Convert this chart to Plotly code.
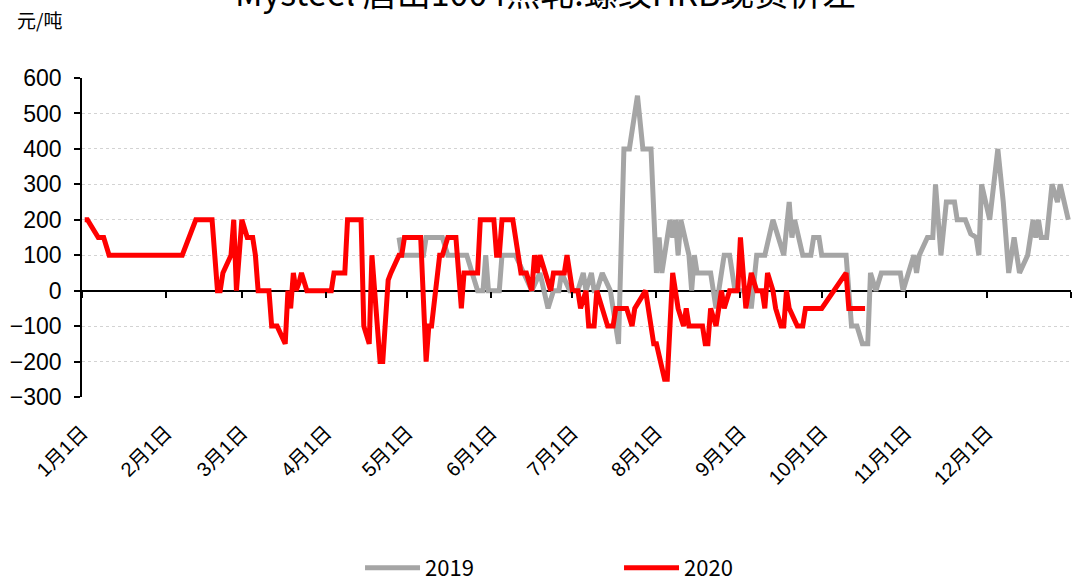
import pandas as pd
import plotly.graph_objects as go

# ---- data (day offset from 1 Jan, value in 元/吨) ----
days_2019 = [117, 118, 126, 127, 133, 135, 142, 144, 146, 148, 149, 150, 154, 155, 160, 163, 166, 169, 172, 174,
             176, 177, 180, 183, 185, 186, 188, 189, 190, 192, 195, 196, 198, 200, 202, 205, 207, 210, 212, 213,
             214, 217, 218, 219, 220, 221, 224, 225, 226, 227, 232, 234, 237, 239, 241, 246, 247, 249, 252, 255,
             259, 261, 262, 263, 266, 269, 270, 272, 273, 282, 284, 286, 288, 290, 291, 293, 295, 302, 303, 305,
             307, 308, 309, 312, 314, 315, 317, 319, 322, 323, 326, 328, 330, 331, 332, 335, 338, 340, 342, 344,
             346, 349, 351, 352, 353, 354, 356, 358, 360, 361, 364]
vals_2019 = [150, 100, 100, 150, 150, 100, 100, 50, 0, 0, 100, 0, 0, 100, 100, 50, 0, 50, -50, 0,
             0, 50, 0, 0, 50, 0, 50, 0, 0, 50, 0, -50, -150, 400, 400, 550, 400, 400, 50, 150,
             50, 200, 150, 200, 100, 200, 100, 0, 100, 50, 50, -50, 100, 100, 0, 0, -50, 100, 100, 200,
             100, 250, 150, 200, 100, 100, 150, 150, 100, 100, -100, -100, -150, -150, 50, 0, 50, 50, 0, 50,
             100, 50, 100, 150, 150, 300, 100, 250, 250, 200, 200, 160, 150, 100, 300, 200, 400, 250, 50, 150,
             50, 100, 200, 150, 200, 150, 150, 300, 250, 300, 200]

days_2020 = [1, 2, 6, 8, 10, 37, 42, 48, 50, 51, 52, 55, 56, 57, 59, 61, 63, 64, 65, 69,
             70, 72, 75, 76, 77, 78, 79, 80, 81, 83, 92, 93, 97, 98, 103, 104, 106, 107, 110, 111,
             113, 114, 117, 118, 119, 125, 127, 128, 129, 132, 133, 135, 138, 140, 141, 146, 147, 152, 153, 154,
             155, 159, 161, 162, 164, 166, 167, 168, 169, 172, 173, 174, 178, 179, 181, 183, 184, 186, 187, 189,
             190, 192, 194, 196, 197, 201, 203, 204, 208, 211, 212, 215, 216, 218, 220, 222, 223, 224, 229, 230,
             231, 232, 234, 236, 237, 239, 242, 243, 245, 247, 249, 251, 252, 253, 255, 256, 258, 259, 260, 261,
             264, 266, 267, 273, 282, 283, 289]
vals_2020 = [200, 200, 150, 150, 100, 100, 200, 200, 0, 0, 50, 100, 200, 0, 200, 150, 150, 100, 0, 0,
             -100, -100, -150, 0, -50, 50, 0, 20, 50, 0, 0, 50, 50, 200, 200, -100, -150, 100, -200, -200,
             30, 50, 100, 100, 150, 150, -200, -100, -100, 100, 100, 150, 150, -50, 50, 50, 200, 200, 100, 100,
             200, 200, 100, 50, 50, 0, 100, 50, 100, 20, 0, 50, 50, 100, 0, 0, -50, 0, -100, -100,
             0, -50, -100, -100, -50, -50, -100, -50, 0, -150, -150, -250, -250, 50, -50, -100, -50, -100, -100, -150,
             -150, -50, -100, 0, -50, 0, 0, 150, -50, 50, 0, 0, -50, 50, 0, -50, -100, -100, 0, -50,
             -100, -100, -50, -50, 50, -50, -50]

tick_dates = ["2019-01-01", "2019-02-01", "2019-03-01", "2019-04-01", "2019-05-01", "2019-06-01",
              "2019-07-01", "2019-08-01", "2019-09-01", "2019-10-01", "2019-11-01", "2019-12-01"]
tick_text = ["1月1日", "2月1日", "3月1日", "4月1日", "5月1日", "6月1日",
             "7月1日", "8月1日", "9月1日", "10月1日", "11月1日", "12月1日"]

series_names = ["2019", "2020"]
series_colors = ["#A5A5A5", "#FF0000"]
title_text = "Mysteel 唐山1004热轧:螺纹HRB现货价差"
unit_text = "元/吨"

base = pd.Timestamp("2019-01-01")
x19 = [base + pd.Timedelta(days=d) for d in days_2019]
x20 = [base + pd.Timedelta(days=d) for d in days_2020]

fig = go.Figure()
fig.add_trace(go.Scatter(x=x19, y=vals_2019, name=series_names[0], mode="lines",
                         line=dict(color=series_colors[0], width=5)))
fig.add_trace(go.Scatter(x=x20, y=vals_2020, name=series_names[1], mode="lines",
                         line=dict(color=series_colors[1], width=5)))
# helper trace so the zero-line tick axis is drawn
fig.add_trace(go.Scatter(x=[base], y=[0], xaxis="x2", mode="lines", showlegend=False,
                         hoverinfo="skip", line=dict(color="rgba(0,0,0,0)")))

label_font = dict(family="Liberation Sans, Noto Sans CJK SC", size=20, color="black")

fig.update_layout(
    width=1072, height=588,
    margin=dict(l=82, r=1, t=78, b=191),
    paper_bgcolor="white", plot_bgcolor="white",
    showlegend=True,
    legend=dict(orientation="h", x=0.543, xanchor="center", y=0.034, yref="container",
                yanchor="middle", font=dict(family="Noto Sans CJK SC", size=22, color="black"),
                itemwidth=55, entrywidth=189, entrywidthmode="pixels", bgcolor="rgba(0,0,0,0)"),
    xaxis=dict(type="date", range=["2019-01-01", "2020-01-01"], tickmode="array",
               tickvals=tick_dates, ticktext=tick_text, tickangle=-45,
               ticks="outside", ticklen=15, tickcolor="rgba(0,0,0,0)",
               tickfont=label_font, showgrid=False, showline=False, zeroline=False),
    xaxis2=dict(type="date", overlaying="x", matches="x", anchor="free", position=1/3, side="bottom",
                tickmode="array", tickvals=tick_dates + ["2020-01-01"], ticks="outside", ticklen=6,
                tickwidth=1.5, tickcolor="black", showticklabels=False, showgrid=False,
                showline=False, zeroline=False),
    yaxis=dict(range=[-300, 600], dtick=100, tick0=0, showgrid=True, gridcolor="#D3D3D3",
               griddash="dot", gridwidth=1, showline=True, linecolor="black", linewidth=1.5,
               ticks="outside", ticklen=6, tickwidth=1.5, tickcolor="black", ticklabelstandoff=8,
               zeroline=True, zerolinecolor="black", zerolinewidth=1.5,
               tickfont=dict(family="Liberation Sans", size=23, color="black")),
    annotations=[
        dict(text=unit_text, xref="paper", yref="paper", x=-0.0677, y=1.182, xanchor="left",
             yanchor="middle", showarrow=False,
             font=dict(family="Noto Sans CJK SC", size=19, color="black")),
        dict(text=title_text, xref="paper", yref="paper", x=0.469, y=1.271, xanchor="center",
             yanchor="middle", showarrow=False,
             font=dict(family="Noto Sans CJK SC", size=34, color="black")),
    ],
)

fig.write_html(
    "out.html",
    config={"displayModeBar": False},
    post_script="document.body.style.margin='0';document.body.style.overflow='hidden';",
)
